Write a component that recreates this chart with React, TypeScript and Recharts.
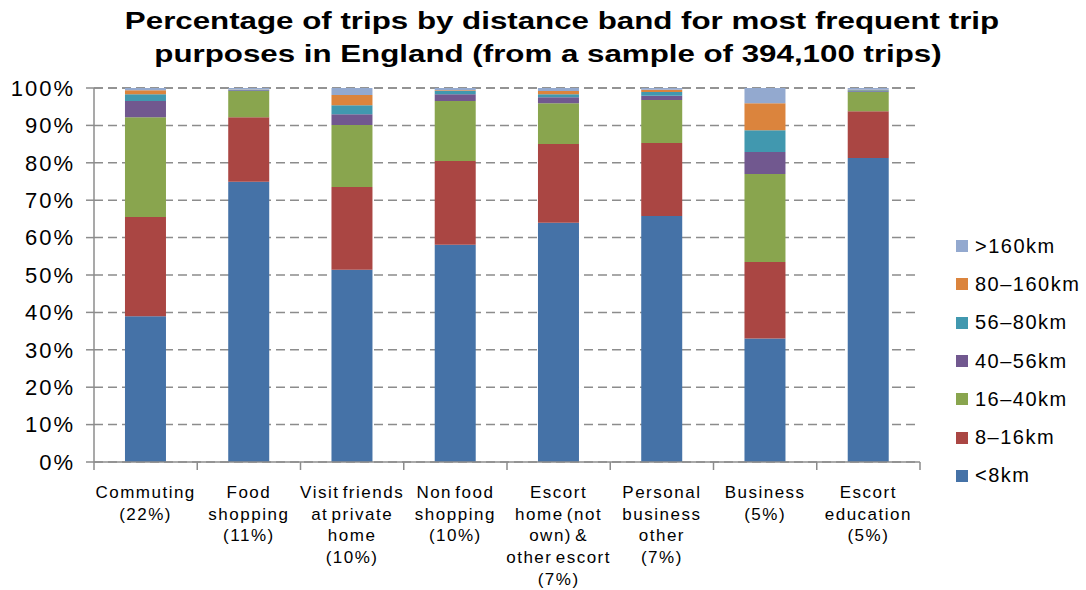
import React from "react";
import { BarChart, Bar, XAxis, YAxis, CartesianGrid, Legend } from "recharts";

// trip purposes (share of all trips in brackets), one label line per "\n"
const categories = [
  "Commuting\n(22%)",
  "Food\nshopping\n(11%)",
  "Visit friends\nat private\nhome\n(10%)",
  "Non food\nshopping\n(10%)",
  "Escort\nhome (not\nown) &\nother escort\n(7%)",
  "Personal\nbusiness\nother\n(7%)",
  "Business\n(5%)",
  "Escort\neducation\n(5%)",
];

// percentage of trips in each distance band
const under8 = [39.0, 74.9, 51.4, 58.1, 64.0, 65.8, 33.0, 81.3];
const km8to16 = [26.5, 17.3, 22.1, 22.4, 21.0, 19.5, 20.5, 12.5];
const km16to40 = [26.7, 7.0, 16.6, 16.0, 10.9, 11.5, 23.5, 5.1];
const km40to56 = [4.3, 0.2, 2.9, 1.8, 1.6, 1.1, 5.9, 0.2];
const km56to80 = [1.8, 0.1, 2.4, 0.9, 0.8, 1.0, 5.8, 0.3];
const km80to160 = [1.1, 0.1, 2.7, 0.2, 0.9, 0.6, 7.2, 0.1];
const over160 = [0.6, 0.4, 1.9, 0.6, 0.8, 0.5, 4.1, 0.5];

const yTicks = [0, 10, 20, 30, 40, 50, 60, 70, 80, 90, 100];

const titleLines = [
  "Percentage of trips by distance band for most frequent trip",
  "purposes in England (from a sample of 394,100 trips)",
];

const series = [
  { key: "under8", name: "<8km", values: under8, color: "#4572A7" },
  { key: "km8to16", name: "8\u201316km", values: km8to16, color: "#AA4643" },
  { key: "km16to40", name: "16\u201340km", values: km16to40, color: "#89A54E" },
  { key: "km40to56", name: "40\u201356km", values: km40to56, color: "#71588F" },
  { key: "km56to80", name: "56\u201380km", values: km56to80, color: "#4198AF" },
  { key: "km80to160", name: "80\u2013160km", values: km80to160, color: "#DB843D" },
  { key: "over160", name: ">160km", values: over160, color: "#93A9CF" },
];

const data = categories.map((cat, i) => {
  const row: any = { cat };
  series.forEach((s) => (row[s.key] = s.values[i]));
  return row;
});

const FONT = '"Liberation Sans", Arial, sans-serif';
const W = 1086;
const H = 590;
const M = { top: 88, right: 166, bottom: 8, left: 0 };
const Y_W = 94;
const X_H = 120;
const PLOT_W = W - M.left - M.right - Y_W;
const AXIS = "#8c8c8c";

// category label plus the little tick at the left edge of each band
function CatTick(props: any) {
  const { x, y, payload, index } = props;
  const band = PLOT_W / categories.length;
  const lines = String(payload.value).split("\n");
  return (
    <g>
      <line x1={x - band / 2} x2={x - band / 2} y1={y} y2={y + 8} stroke={AXIS} strokeWidth={1.5} />
      {index === categories.length - 1 && (
        <line x1={x + band / 2} x2={x + band / 2} y1={y} y2={y + 8} stroke={AXIS} strokeWidth={1.5} />
      )}
      <text
        x={x}
        y={y}
        textAnchor="middle"
        fontSize={17}
        fill="#000"
        fontFamily={FONT}
        letterSpacing={1.5}
        wordSpacing={-3}
      >
        {lines.map((l, i) => (
          <tspan key={i} x={x} dy={i === 0 ? 36 : 21.7}>
            {l}
          </tspan>
        ))}
      </text>
    </g>
  );
}

function LegendBox() {
  return (
    <div style={{ fontFamily: FONT }}>
      {series
        .slice()
        .reverse()
        .map((s) => (
          <div key={s.key} style={{ display: "flex", alignItems: "center", height: 38.3 }}>
            <span style={{ width: 12, height: 12, background: s.color, marginRight: 7 }} />
            <span style={{ fontSize: 20, color: "#000", letterSpacing: 1.5 }}>{s.name}</span>
          </div>
        ))}
    </div>
  );
}

// the reference title is set wide, so each line is stretched horizontally
const titleCentres = [562, 548];

export default function App() {
  return (
    <div style={{ position: "absolute", left: 0, top: 0, width: W, height: H, background: "#fff", fontFamily: FONT }}>
      {titleLines.map((t, i) => (
        <div
          key={i}
          style={{
            position: "absolute",
            left: titleCentres[i] - 500,
            width: 1000,
            top: 5 + i * 33,
            textAlign: "center",
            fontWeight: "bold",
            fontSize: 23,
            lineHeight: "33px",
            color: "#000",
            transform: "scaleX(1.36)",
            transformOrigin: "500px 0",
            whiteSpace: "nowrap",
          }}
        >
          {t}
        </div>
      ))}
      <BarChart width={W} height={H} data={data} margin={M} barCategoryGap="30%">
        <CartesianGrid vertical={false} stroke={AXIS} strokeWidth={1.5} strokeDasharray="9 5" />
        <XAxis
          dataKey="cat"
          height={X_H}
          interval={0}
          tickLine={false}
          tickSize={0}
          tickMargin={0}
          axisLine={{ stroke: AXIS, strokeWidth: 1.5 }}
          tick={<CatTick />}
        />
        <YAxis
          width={Y_W}
          domain={[0, 100]}
          ticks={yTicks}
          interval={0}
          tickFormatter={(v: number) => `${v}%`}
          tickSize={8}
          tickMargin={11}
          tick={{ fontSize: 22, fill: "#000", fontFamily: FONT, letterSpacing: 2 }}
          axisLine={{ stroke: AXIS, strokeWidth: 1.5 }}
          tickLine={{ stroke: AXIS, strokeWidth: 1.5 }}
        />
        {series.map((s) => (
          <Bar key={s.key} dataKey={s.key} name={s.name} stackId="a" fill={s.color} isAnimationActive={false} />
        ))}
        <Legend
          layout="horizontal"
          verticalAlign="middle"
          align="center"
          content={() => <LegendBox />}
          wrapperStyle={{ position: "absolute", left: 956, top: 227, width: 130 }}
        />
      </BarChart>
    </div>
  );
}
